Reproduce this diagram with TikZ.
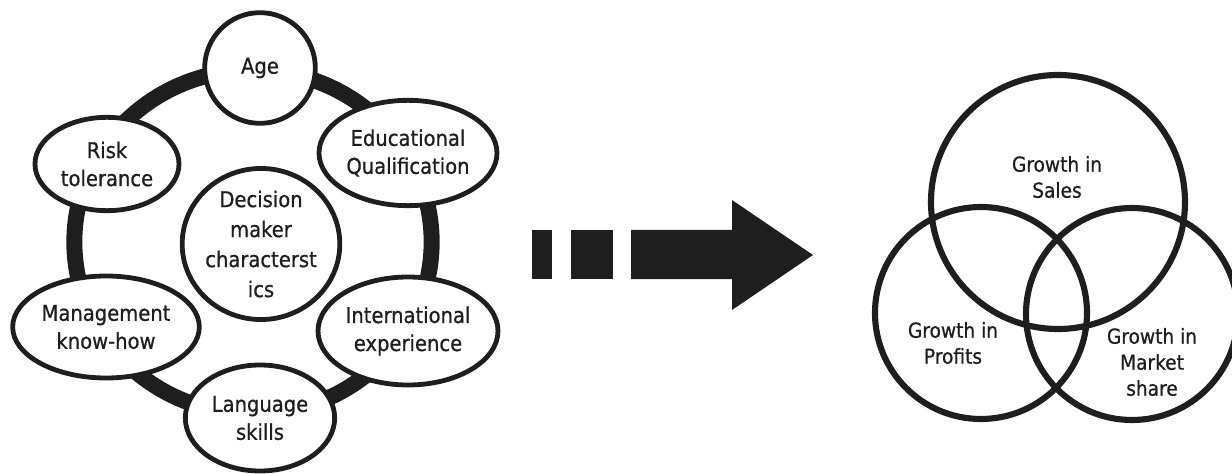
\documentclass[tikz,border=0pt]{standalone}
\usepackage{fontspec}
\setmainfont{DejaVu Sans Condensed}
\newfontfamily\diagfont{DejaVu Sans Condensed}[FakeBold=0.7]
\usetikzlibrary{shapes.geometric}
\definecolor{ink}{RGB}{30,30,30}
\tikzset{
  trait/.style={ellipse, draw=ink, line width=3.6pt, fill=white, inner sep=0pt, align=center, text=ink, font=\diagfont\fontsize{16.3}{21}\selectfont},
  venncircle/.style={circle, draw=ink, line width=4.6pt, inner sep=0pt},
  venntext/.style={align=center, inner sep=0.75pt, text=ink, font=\diagfont\fontsize{15.5}{19.5}\selectfont}
}

\begin{document}
\begin{tikzpicture}[x=0.75pt,y=0.75pt,yscale=-1,xscale=1]
\useasboundingbox (0,0) rectangle (1232,474);

%Shape: Ring [id:ring]
\draw [ink, line width=12pt] (253,242) ellipse [x radius=134pt, y radius=129pt];

%Shape: Ellipse nodes round the ring
\node [trait, minimum width=83pt, minimum height=83pt] (age) at (260,68) {Age};
\node [trait, minimum width=133.5pt, minimum height=79pt] (edu) at (408,153) {Educational\\Qualification};
\node [trait, minimum width=108pt, minimum height=70pt] (risk) at (107,164) {Risk\\tolerance};
\node [trait, minimum width=140pt, minimum height=76.5pt] (mgmt) at (106,327) {Management\\know-how};
\node [trait, minimum width=135pt, minimum height=81pt] (intl) at (408,331) {International\\experience};
\node [trait, minimum width=112pt, minimum height=79.5pt] (lang) at (260,418) {Language\\skills};

%Shape: Centre circle
\node [trait, minimum width=112.5pt, minimum height=106.5pt, font=\diagfont\fontsize{16.3}{22.5}\selectfont] (centre) at (261,244) {Decision\\maker\\characterst\\ics};

%Shape: Dashed block arrow
\fill [ink] (532,230) rectangle (552,279);
\fill [ink] (571,230) rectangle (613,279);
\fill [ink] (631,230) -- (732,230) -- (732,200) -- (813,255) -- (732,310) -- (732,279) -- (631,279) -- cycle;

%Shape: Venn circles
\node [venncircle, minimum size=190.5pt] (sales) at (1058,202) {};
\node [venncircle, minimum size=159pt] (profits) at (981,313) {};
\node [venncircle, minimum size=159pt] (market) at (1132,314) {};

% Text Node
\node [venntext] (salestext) at (1057,177) {Growth in\\Sales};
% Text Node
\node [venntext] (profitstext) at (953,343) {Growth in\\Profits};
% Text Node
\node [venntext] (markettext) at (1152,362) {Growth in\\Market\\share};

\end{tikzpicture}
\end{document}
